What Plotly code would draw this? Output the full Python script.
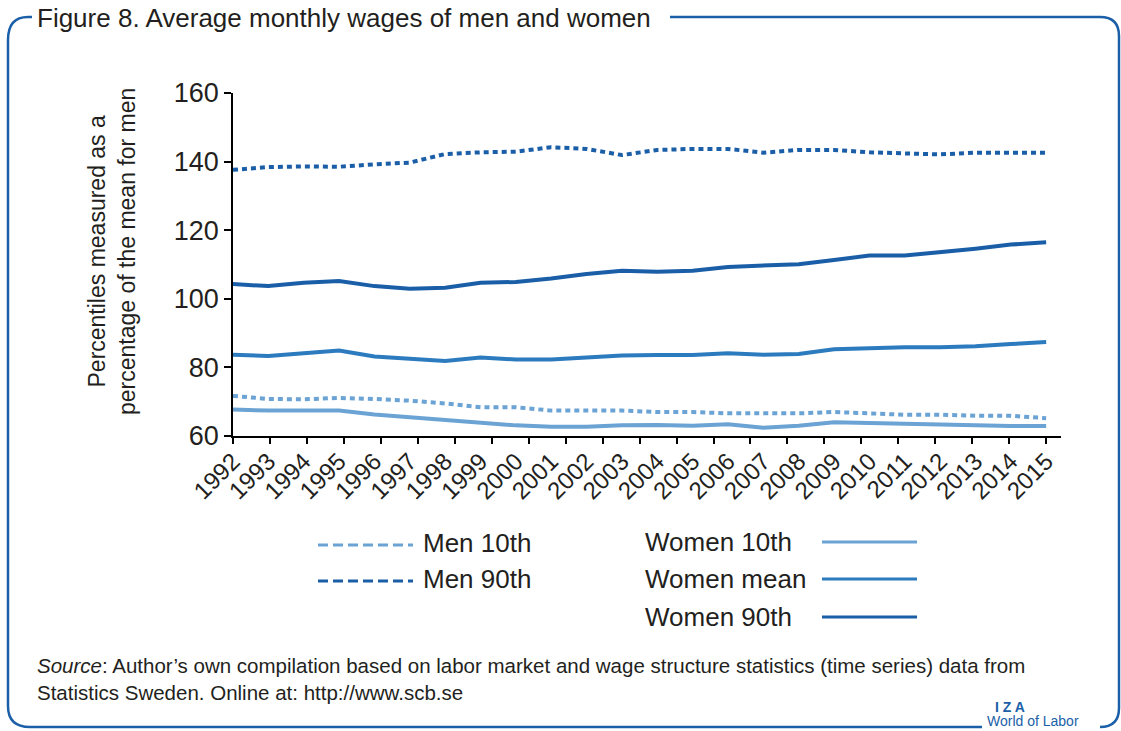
import numpy as np
import plotly.graph_objects as go

# ---- data -------------------------------------------------------------
years = list(range(1992, 2016))
men_p10 = [71.7, 70.8, 70.7, 71.1, 70.8, 70.3, 69.5, 68.4, 68.4, 67.4, 67.4, 67.4,
           67.0, 67.0, 66.6, 66.6, 66.6, 67.0, 66.6, 66.2, 66.2, 65.9, 65.9, 65.2]
men_p90 = [137.6, 138.4, 138.6, 138.5, 139.2, 139.7, 142.2, 142.7, 142.9, 144.2, 143.7, 141.9,
           143.4, 143.7, 143.7, 142.6, 143.4, 143.4, 142.7, 142.3, 142.1, 142.6, 142.7, 142.6]
women_p10 = [67.7, 67.4, 67.4, 67.4, 66.3, 65.5, 64.7, 64.1, 63.1, 62.7, 62.7, 63.1,
             63.2, 63.0, 63.4, 62.4, 63.0, 64.0, 63.8, 63.5, 63.3, 63.0, 62.9, 62.9]
women_mean = [83.7, 83.3, 84.1, 84.9, 83.2, 82.6, 81.9, 82.9, 82.3, 82.3, 82.8, 83.5,
              83.6, 83.6, 84.1, 83.7, 83.9, 85.3, 85.6, 85.9, 85.9, 86.2, 86.8, 87.4]
women_p90 = [104.3, 103.7, 104.7, 105.2, 103.7, 102.9, 103.2, 104.7, 104.9, 105.9, 107.2, 108.2,
             107.9, 108.2, 109.3, 109.7, 110.1, 111.3, 112.6, 112.6, 113.5, 114.6, 115.8, 116.5]
y_ticks = [60, 80, 100, 120, 140, 160]

# ---- style ------------------------------------------------------------
W, H = 1121, 731
L, R, T, B = 233, 60, 93, 295
LIGHT = "#6aa3d4"
MID = "#2c7bbf"
DARK = "#1b5ea8"
FRAME = "#1a5fa8"
TEXT = "#231f20"
FONT = "Liberation Sans, Arial, sans-serif"

pw, ph = W - L - R, H - T - B


def px(x):
    return (x - L) / pw


def py(y):
    return (H - B - y) / ph


series = [
    ("Men 10th", men_p10, LIGHT, "5px,4px"),
    ("Men 90th", men_p90, DARK, "5px,4px"),
    ("Women 10th", women_p10, LIGHT, "solid"),
    ("Women mean", women_mean, MID, "solid"),
    ("Women 90th", women_p90, DARK, "solid"),
]

fig = go.Figure()
for name, vals, col, dash in series:
    fig.add_trace(go.Scatter(
        x=years, y=vals, mode="lines", name=name,
        line=dict(color=col, width=4, dash=dash),
        showlegend=False, hoverinfo="skip",
    ))
# empty trace so the tick-mark axis is rendered
fig.add_trace(go.Scatter(x=[], y=[], xaxis="x2", showlegend=False, hoverinfo="skip"))

x_range = [years[0], years[-1] + 0.42]

fig.update_layout(
    width=W, height=H,
    margin=dict(l=L, r=R, t=T, b=B),
    paper_bgcolor="white", plot_bgcolor="white",
    font=dict(family=FONT, color=TEXT),
    xaxis=dict(
        range=x_range, tickvals=years, ticktext=[str(y) for y in years],
        tickangle=-45, ticks="", showline=True, linecolor="black", linewidth=1.5,
        showgrid=False, zeroline=False, tickfont=dict(size=24, color=TEXT),
    ),
    xaxis2=dict(
        range=x_range, overlaying="x", anchor="y", showline=False,
        tickvals=list(np.linspace(years[0], years[-1], 23)),
        ticks="outside", ticklen=7, tickwidth=1.5, tickcolor="black",
        showticklabels=False, showgrid=False, zeroline=False,
    ),
    yaxis=dict(
        range=[60, 160], tickvals=y_ticks, ticks="outside", ticklen=7, tickwidth=1.5,
        tickcolor="black", showline=True, linecolor="black", linewidth=1.5,
        showgrid=False, zeroline=False, tickfont=dict(size=27, color=TEXT),
    ),
)

annotations = []
shapes = []

# y-axis title
annotations.append(dict(
    xref="paper", yref="paper", x=px(112), y=py(251), textangle=-90,
    text="Percentiles measured as a<br>percentage of the mean for men",
    showarrow=False, font=dict(size=23, color=TEXT), xanchor="center", yanchor="middle",
))

# legend
left_rows = [("Men 10th", LIGHT, 543), ("Men 90th", DARK, 579)]
right_rows = [("Women 10th", LIGHT, 542), ("Women mean", MID, 579), ("Women 90th", DARK, 617)]
for label, col, yy in left_rows:
    shapes.append(dict(type="line", xref="paper", yref="paper",
                       x0=px(318), x1=px(413), y0=py(yy + 2), y1=py(yy + 2),
                       line=dict(color=col, width=3, dash="10px,5px")))
    annotations.append(dict(xref="paper", yref="paper", x=px(421), y=py(yy),
                            text=label, showarrow=False, xanchor="left", yanchor="middle",
                            font=dict(size=26, color=TEXT)))
for label, col, yy in right_rows:
    shapes.append(dict(type="line", xref="paper", yref="paper",
                       x0=px(822), x1=px(917), y0=py(yy), y1=py(yy),
                       line=dict(color=col, width=3)))
    annotations.append(dict(xref="paper", yref="paper", x=px(643), y=py(yy),
                            text=label, showarrow=False, xanchor="left", yanchor="middle",
                            font=dict(size=26, color=TEXT)))

# title
annotations.append(dict(xref="paper", yref="paper", x=px(35), y=py(18),
                        text="Figure 8. Average monthly wages of men and women",
                        showarrow=False, xanchor="left", yanchor="middle",
                        font=dict(size=26, color=TEXT)))

# source note
annotations.append(dict(xref="paper", yref="paper", x=px(35), y=py(679),
                        text="<i>Source</i>: Author’s own compilation based on labor market and wage structure "
                             "statistics (time series) data from<br>Statistics Sweden. Online at: http://www.scb.se",
                        showarrow=False, xanchor="left", yanchor="middle", align="left",
                        font=dict(size=20.5, color=TEXT)))

# IZA mark
annotations.append(dict(xref="paper", yref="paper", x=px(1010), y=py(707),
                        text="<b>I Z A</b>", showarrow=False, xanchor="center", yanchor="middle",
                        font=dict(size=14, color=FRAME)))
annotations.append(dict(xref="paper", yref="paper", x=px(985), y=py(731),
                        text="World of Labor", showarrow=False, xanchor="left", yanchor="bottom",
                        font=dict(size=14, color=FRAME)))


# frame around the figure
def path(points):
    out = []
    for cmd, *pts in points:
        coords = " ".join(f"{px(a):.5f},{py(b):.5f}" for a, b in pts)
        out.append(f"{cmd} {coords}")
    return " ".join(out)


frame_paths = [
    [("M", (32, 17)), ("L", (28, 17)), ("Q", (8, 17), (8, 40)), ("L", (8, 706)),
     ("Q", (8, 727), (30, 727)), ("L", (982, 727))],
    [("M", (670, 17)), ("L", (1100, 17)), ("Q", (1119, 17), (1119, 36)), ("L", (1119, 708)),
     ("Q", (1119, 727), (1100, 727))],
]
for pts in frame_paths:
    shapes.append(dict(type="path", xref="paper", yref="paper", path=path(pts),
                       line=dict(color=FRAME, width=2.5)))

fig.update_layout(annotations=annotations, shapes=shapes)
fig.write_html("out.html")
